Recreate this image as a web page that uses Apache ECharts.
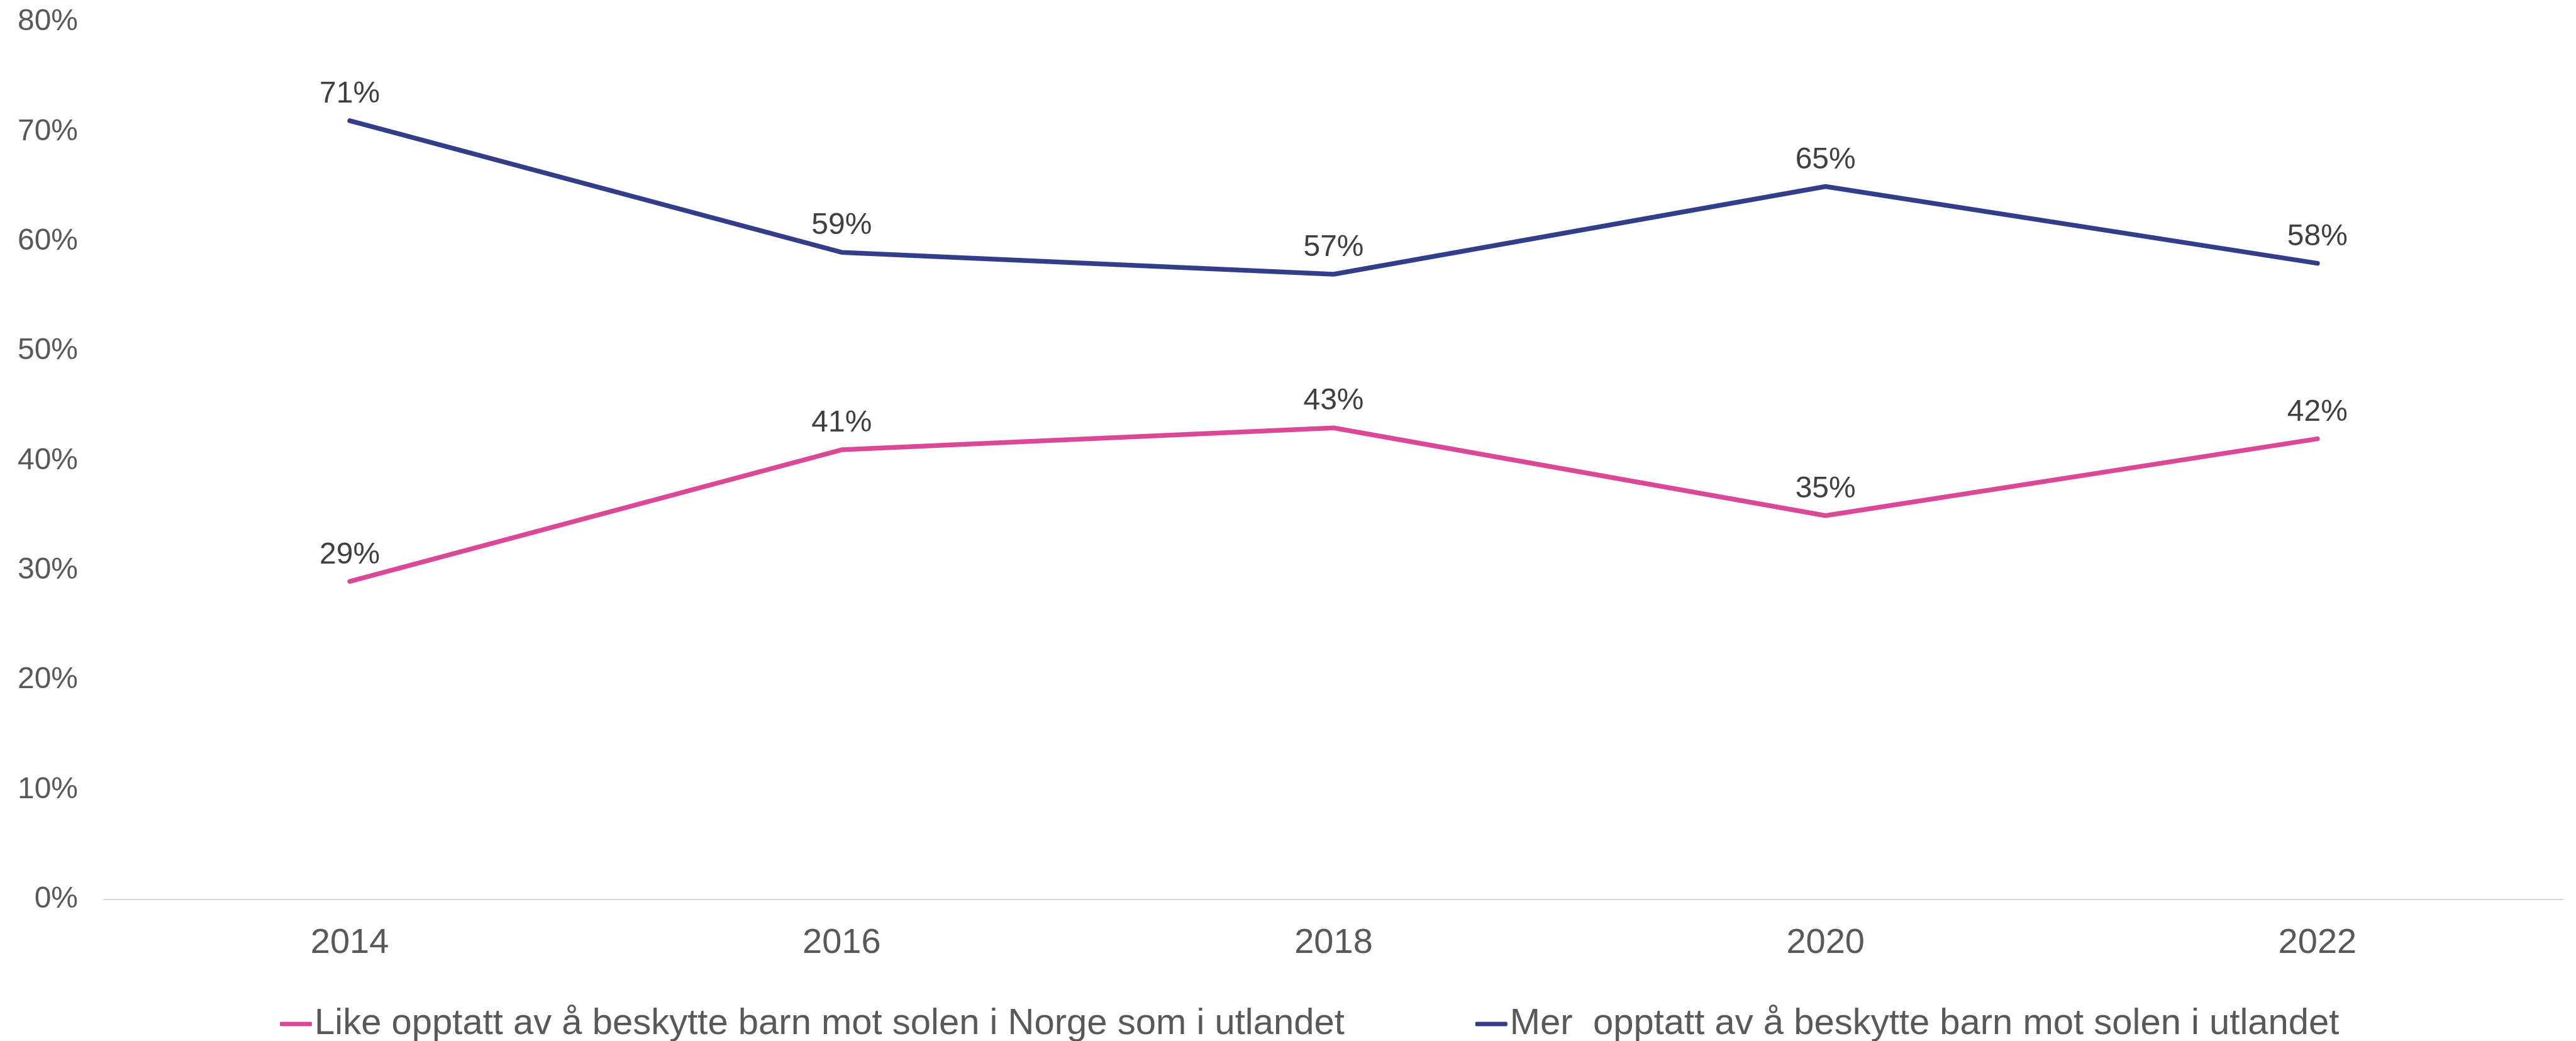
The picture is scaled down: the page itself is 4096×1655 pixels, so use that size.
<!DOCTYPE html>
<html>
<head>
  <meta charset="utf-8">
  <title>Beskytte barn mot solen</title>
  <script src="https://cdn.jsdelivr.net/npm/echarts@6/dist/echarts.min.js"></script>
  <style>
    html, body { margin: 0; padding: 0; background: #fff; }
  </style>
</head>
<body>
  <div id="main" style="width: 4096px;height:1655px;"></div>
  <script type="text/javascript">
    // data
    var years = ['2014', '2016', '2018', '2020', '2022'];
    var likeOpptatt = [29, 41, 43, 35, 42];
    var merOpptatt = [71, 59, 57, 65, 58];
    var seriesNames = [
      'Like opptatt av å beskytte barn mot solen i Norge som i utlandet',
      'Mer  opptatt av å beskytte barn mot solen i utlandet'
    ];
    var yTicks = { min: 0, max: 80, step: 10 };

    var font = "'Liberation Sans', Arial, sans-serif";
    var pink = '#DA4897';
    var blue = '#323E8A';

    var myChart = echarts.init(document.getElementById('main'), null, { renderer: 'canvas' });

    function lineSeries(name, data, color) {
      return {
        name: name,
        type: 'line',
        data: data,
        // tiny symbol so the value labels still get drawn
        symbol: 'circle',
        symbolSize: 0.01,
        showSymbol: true,
        lineStyle: { color: color, width: 7.5, cap: 'round', join: 'round' },
        itemStyle: { color: color },
        label: {
          show: true,
          position: 'top',
          distance: 18,
          formatter: '{c}%',
          color: '#404040',
          fontSize: 48,
          fontFamily: font
        },
        emphasis: { disabled: true },
        animation: false
      };
    }

    var option = {
      backgroundColor: '#ffffff',
      animation: false,
      grid: { left: 165, right: 20, top: 35, bottom: 225 },
      legend: {
        data: seriesNames,
        left: 440,
        top: 1594,
        icon: 'roundRect',
        itemWidth: 51,
        itemHeight: 7,
        itemGap: 208,
        textStyle: { color: '#595959', fontSize: 58, fontFamily: font, padding: [0, 0, 0, -1] }
      },
      xAxis: {
        type: 'category',
        data: years,
        boundaryGap: true,
        axisLine: { show: true, lineStyle: { color: '#D9D9D9', width: 2 } },
        axisTick: { show: false },
        axisLabel: { color: '#595959', fontSize: 56, fontFamily: font, margin: 42 },
        splitLine: { show: false }
      },
      yAxis: {
        type: 'value',
        min: yTicks.min,
        max: yTicks.max,
        interval: yTicks.step,
        axisLine: { show: false },
        axisTick: { show: false },
        splitLine: { show: false },
        axisLabel: { color: '#595959', fontSize: 48, fontFamily: font, margin: 41, formatter: '{value}%' }
      },
      series: [
        lineSeries(seriesNames[0], likeOpptatt, pink),
        lineSeries(seriesNames[1], merOpptatt, blue)
      ]
    };

    myChart.setOption(option);
  </script>
</body>
</html>
